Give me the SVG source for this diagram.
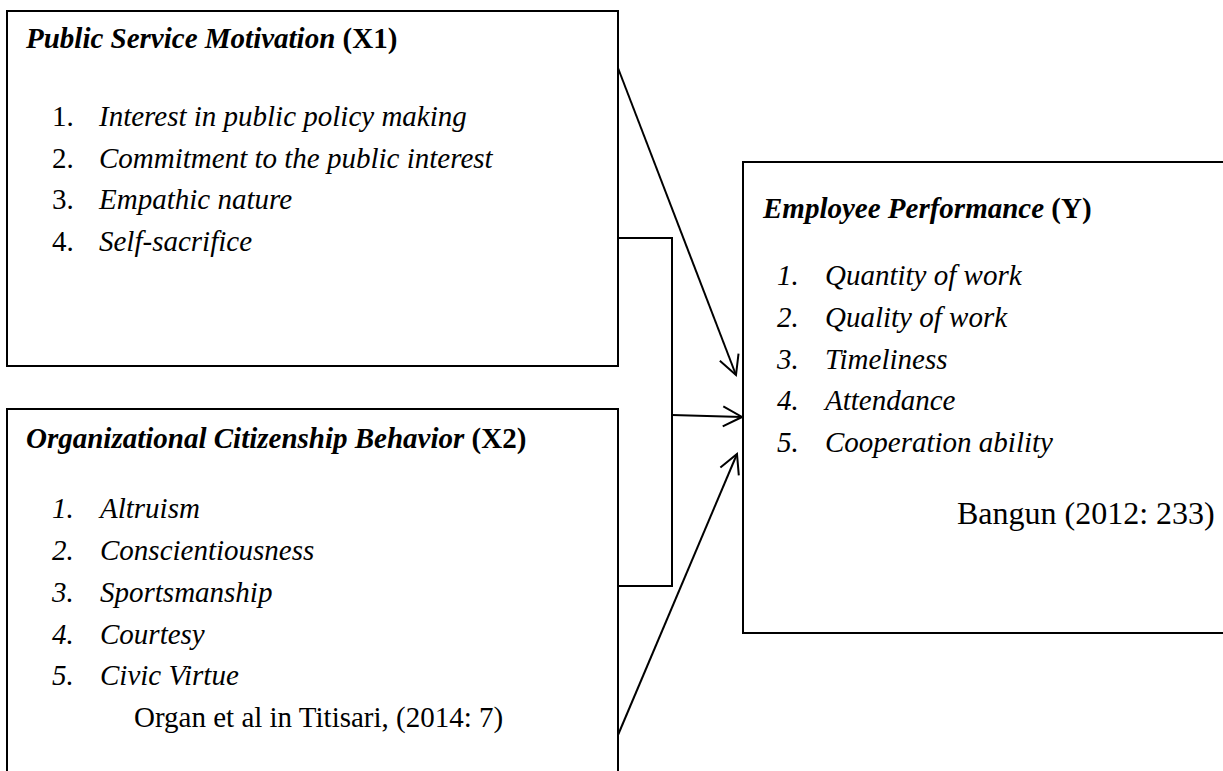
<svg xmlns="http://www.w3.org/2000/svg" width="1223" height="771" viewBox="0 0 1223 771">
  <style>
    text { font-family: "Liberation Serif", "Times New Roman", serif; font-size: 29px; fill: #000; }
    .title { font-weight: bold; font-style: italic; }
    .code { font-style: normal; }
    .it { font-style: italic; }
    .cite { font-style: normal; }
    .box { fill: #fff; stroke: #000; stroke-width: 2; }
    .link { fill: none; stroke: #000; stroke-width: 2; }
  </style>
  <defs>
    <marker id="arrow" markerUnits="userSpaceOnUse" viewBox="-22 -12 24 24" refX="0" refY="0" markerWidth="24" markerHeight="24" orient="auto">
      <path d="M-19,-10 L0,0 L-19,10" fill="none" stroke="#000" stroke-width="2"/>
    </marker>
  </defs>
  <rect width="1223" height="771" fill="#fff"/>

  <!-- X1 -->
  <g id="node-x1">
    <rect class="box" x="7" y="11" width="611" height="355"/>
    <text class="title" x="26" y="48">Public Service Motivation <tspan class="code">(X1)</tspan></text>
    <text x="52" y="126">1.</text><text class="it" x="99" y="126">Interest in public policy making</text>
    <text x="52" y="167.5">2.</text><text class="it" x="99" y="167.5">Commitment to the public interest</text>
    <text x="52" y="209">3.</text><text class="it" x="99" y="209">Empathic nature</text>
    <text x="52" y="250.5">4.</text><text class="it" x="99" y="250.5">Self-sacrifice</text>
  </g>

  <!-- X2 -->
  <g id="node-x2">
    <rect class="box" x="7" y="409" width="611" height="400"/>
    <text class="title" x="26" y="448">Organizational Citizenship Behavior <tspan class="code">(X2)</tspan></text>
    <text class="it" x="52" y="518">1.</text><text class="it" x="100" y="518">Altruism</text>
    <text class="it" x="52" y="560">2.</text><text class="it" x="100" y="560">Conscientiousness</text>
    <text class="it" x="52" y="601.5">3.</text><text class="it" x="100" y="601.5">Sportsmanship</text>
    <text class="it" x="52" y="643.5">4.</text><text class="it" x="100" y="643.5">Courtesy</text>
    <text class="it" x="52" y="685">5.</text><text class="it" x="100" y="685">Civic Virtue</text>
    <text class="cite" x="134" y="727">Organ et al in Titisari, (2014: 7)</text>
  </g>

  <!-- Y -->
  <g id="node-y">
    <rect class="box" x="743" y="162" width="500" height="471"/>
    <text class="title" x="763" y="218">Employee Performance <tspan class="code">(Y)</tspan></text>
    <text class="it" x="777" y="285">1.</text><text class="it" x="825" y="285">Quantity of work</text>
    <text class="it" x="777" y="327">2.</text><text class="it" x="825" y="327">Quality of work</text>
    <text class="it" x="777" y="368.5">3.</text><text class="it" x="825" y="368.5">Timeliness</text>
    <text class="it" x="777" y="410">4.</text><text class="it" x="825" y="410">Attendance</text>
    <text class="it" x="777" y="452">5.</text><text class="it" x="825" y="452">Cooperation ability</text>
    <text class="cite" x="957" y="524" style="font-size:32px">Bangun (2012: 233)</text>
  </g>

  <!-- connectors -->
  <g id="connectors">
    <line class="link" x1="618" y1="68" x2="736" y2="375" marker-end="url(#arrow)"/>
    <polyline class="link" points="618,238 672,238 672,586 618,586"/>
    <line class="link" x1="672" y1="415" x2="742" y2="417" marker-end="url(#arrow)"/>
    <line class="link" x1="618" y1="735" x2="737" y2="454" marker-end="url(#arrow)"/>
  </g>
</svg>
